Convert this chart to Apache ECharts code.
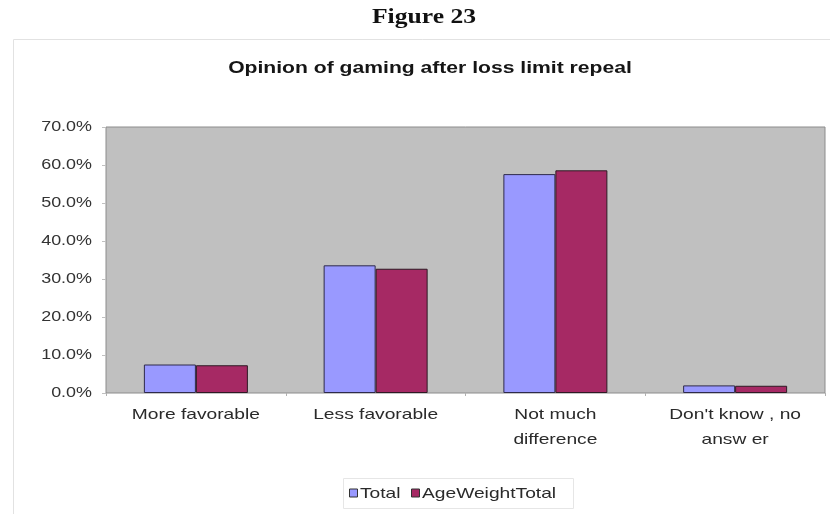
<!DOCTYPE html>
<html>
<head>
<meta charset="utf-8">
<script src="https://cdn.jsdelivr.net/npm/echarts@6/dist/echarts.min.js"></script>
<style>
  html, body { margin: 0; padding: 0; background: #ffffff; }
  #chart { width: 830px; height: 514px; }
</style>
</head>
<body>
<div id="chart"></div>
<script>
// Survey answers: opinion of gaming after the loss limit repeal
const categories = ['More favorable', 'Less favorable', 'Not much\ndifference', "Don't know , no\nansw er"];
const seriesNames = ['Total', 'AgeWeightTotal'];
const totalValues = [7.5, 33.6, 57.6, 2.0];
const ageWeightValues = [7.3, 32.7, 58.6, 1.9];
const yTicks = [0, 10, 20, 30, 40, 50, 60, 70];

const COLORS = ['#9999FF', '#A62964'];
const TEXT = '#2a2a2a';
const SANS = '"Liberation Sans", Arial, sans-serif';
const WIDE = 1.28; // horizontal stretch of the printed lettering

const chart = echarts.init(document.getElementById('chart'), null, { renderer: 'canvas' });

chart.setOption({
  backgroundColor: '#ffffff',
  animation: false,
  grid: {
    left: 106,
    top: 127,
    right: 5,
    bottom: 121,
    show: true,
    backgroundColor: '#C0C0C0',
    borderColor: '#8c8c8c',
    borderWidth: 1,
    containLabel: false
  },
  xAxis: {
    type: 'category',
    data: categories,
    axisLine: { show: false },
    axisTick: { show: true, length: 3, lineStyle: { color: '#b0b0b0' } },
    axisLabel: { show: false }
  },
  yAxis: {
    type: 'value',
    min: 0,
    max: 70,
    interval: 10,
    axisLine: { show: false },
    axisTick: { show: true, length: 4, lineStyle: { color: '#c0c0c0' } },
    splitLine: { show: false },
    axisLabel: { show: false }
  },
  series: [
    {
      name: seriesNames[0],
      type: 'bar',
      data: totalValues,
      barWidth: 52,
      barGap: '0%',
      itemStyle: { color: COLORS[0], borderColor: '#2e2a4a', borderWidth: 1 }
    },
    {
      name: seriesNames[1],
      type: 'bar',
      data: ageWeightValues,
      barWidth: 52,
      barGap: '0%',
      itemStyle: { color: COLORS[1], borderColor: '#2e1a24', borderWidth: 1 }
    }
  ]
});

// Text element stretched horizontally around its anchor point
function label(text, x, y, font, align, vAlign, extra) {
  return {
    type: 'text',
    x: x,
    y: y,
    scaleX: WIDE,
    silent: true,
    z: 10,
    style: Object.assign({
      text: text,
      font: font,
      fill: TEXT,
      align: align,
      verticalAlign: vAlign,
      textAlign: align,
      textVerticalAlign: vAlign
    }, extra || {})
  };
}

const graphics = [];

// Outer frame of the chart
graphics.push({
  type: 'rect',
  shape: { x: 13.5, y: 39.5, width: 830, height: 500 },
  style: { fill: 'none', stroke: '#e2e2e2', lineWidth: 1 },
  z: 0
});

// Figure caption and chart title
graphics.push(label('Figure 23', 424, 18, 'bold 20px "Liberation Serif", "Times New Roman", serif', 'center', 'middle', { fill: '#111' }));
graphics.push(label('Opinion of gaming after loss limit repeal', 430, 68, 'bold 16.5px ' + SANS, 'center', 'middle', { fill: '#151515' }));

// Value axis tick labels
yTicks.forEach(function (v) {
  const py = chart.convertToPixel({ yAxisIndex: 0 }, v);
  graphics.push(label(v.toFixed(1) + '%', 92, py, '14px ' + SANS, 'right', 'middle', { fill: '#333' }));
});

// Category labels under each bar pair
categories.forEach(function (c, i) {
  const px = chart.convertToPixel({ xAxisIndex: 0 }, i);
  graphics.push(label(c, px, 402.5, '15px ' + SANS, 'center', 'top', { lineHeight: 25 }));
});

// Legend box with both series
const legendTop = 478, legendH = 30;
graphics.push({
  type: 'rect',
  shape: { x: 343.5, y: legendTop + 0.5, width: 230, height: legendH },
  style: { fill: '#ffffff', stroke: '#e6e6e6', lineWidth: 1 },
  z: 5
});
const legendItems = [
  { x: 349, textX: 360 },
  { x: 411, textX: 422 }
];
seriesNames.forEach(function (name, i) {
  const cy = legendTop + legendH / 2 + 0.5;
  graphics.push({
    type: 'rect',
    shape: { x: legendItems[i].x + 0.5, y: cy - 4.5, width: 8, height: 8 },
    style: { fill: COLORS[i], stroke: '#333', lineWidth: 1 },
    z: 10
  });
  graphics.push(label(name, legendItems[i].textX, cy, '15px ' + SANS, 'left', 'middle'));
});

chart.setOption({ graphic: graphics });
</script>
</body>
</html>
